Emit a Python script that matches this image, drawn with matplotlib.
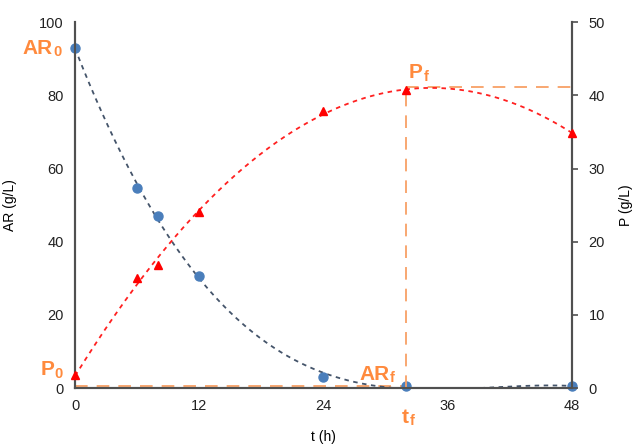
import matplotlib
matplotlib.use("Agg")
import matplotlib.pyplot as plt
import numpy as np

plt.rcParams['font.family'] = ['Liberation Sans', 'DejaVu Sans']

# данные
t_ar = [0, 6, 8, 12, 24, 32, 48]
ar = [92.9, 54.6, 47.0, 30.6, 3.0, 0.5, 0.5]
t_p = [0, 6, 8, 12, 24, 32, 48]
p = [1.8, 15.0, 16.8, 24.0, 37.9, 40.8, 34.8]

x_ticks = [0, 12, 24, 36, 48]
tf = 32
ar_f = 0.5
p_f = 41.2

orange = '#F8A066'
orange_txt = '#FF8A3D'
blue = '#4A7EBB'
slate = '#44546A'
axis_c = '#505050'

fig = plt.figure(figsize=(6.32, 4.44), dpi=100)
ax1 = fig.add_axes([0.1187, 0.126, 0.7863, 0.824])
ax2 = ax1.twinx()

# линии тренда (полиномы, как в Excel)
tt = np.linspace(0, 48, 300)
c_ar = np.polyfit(t_ar, ar, 3)
ar_fit = np.polyval(c_ar, tt)
ar_fit = np.where(ar_fit < 0, np.nan, ar_fit)
ax1.plot(tt, ar_fit, linestyle=(0, (2.5, 2.5)), color=slate, lw=1.3, zorder=2)
ax1.plot(t_ar, ar, 'o', color=blue, ms=6.5, zorder=5, clip_on=False)

c_p = np.polyfit(t_p, p, 2)
ax2.plot(tt, np.polyval(c_p, tt), linestyle=(0, (2.5, 2.5)), color='#FF2020', lw=1.3, zorder=2)
ax2.plot(t_p, p, '^', color='#FF0000', ms=6, zorder=5, clip_on=False)

# пунктирные вспомогательные линии
ax1.plot([0, tf], [ar_f, ar_f], linestyle=(0, (7, 5)), color=orange, lw=1.3, zorder=1)
ax2.plot([tf, tf], [0, p_f], linestyle=(0, (7, 5)), color=orange, lw=1.3, zorder=1)
ax2.plot([tf, 48], [p_f, p_f], linestyle=(0, (7, 5)), color=orange, lw=1.3, zorder=1)

ax1.set_xlim(0, 48)
ax1.set_ylim(0, 100)
ax2.set_ylim(0, 50)
ax1.set_xticks(x_ticks)
ax1.set_yticks(range(0, 101, 20))
ax2.set_yticks(range(0, 51, 10))

for ax in (ax1, ax2):
    ax.spines['top'].set_visible(False)
    for s in ('left', 'right', 'bottom'):
        ax.spines[s].set_color(axis_c)
        ax.spines[s].set_linewidth(1.5)
ax1.tick_params(axis='both', length=0, labelsize=10.5, colors='#222222', pad=8)
ax2.tick_params(axis='y', length=4, width=1.2, color=axis_c, labelsize=10.5,
                labelcolor='#222222', pad=8)

ax1.set_xlabel('t (h)', fontsize=10, labelpad=12)
ax1.set_ylabel('AR (g/L)', fontsize=10, labelpad=16)
ax2.set_ylabel('P (g/L)', fontsize=10, labelpad=10)


def label(ax, main, sub, xy, off, ha='left', va='center'):
    # основной текст и маленький индекс справа от него
    t = ax.annotate(main, xy=xy, xytext=off, textcoords='offset points',
                    ha=ha, va=va, color=orange_txt, fontsize=15, fontweight='bold')
    ax.annotate(sub, xy=(1, 0), xycoords=t, xytext=(0.5, -1), textcoords='offset points',
                ha='left', va='bottom', color=orange_txt, fontsize=10.5,
                fontweight='bold')


label(ax1, 'AR', '0', (0, ar[0]), (-38, 0))
label(ax1, 'P', '0', (0, 5), (-25, 0))
label(ax1, 'AR', 'f', (tf, 1.2), (-34, 0), va='bottom')
label(ax2, 'P', 'f', (tf, p_f), (2, 3), va='bottom')
label(ax1, 't', 'f', (tf, 0), (-3, -14), va='top')

fig.savefig('out.png', dpi=100)
